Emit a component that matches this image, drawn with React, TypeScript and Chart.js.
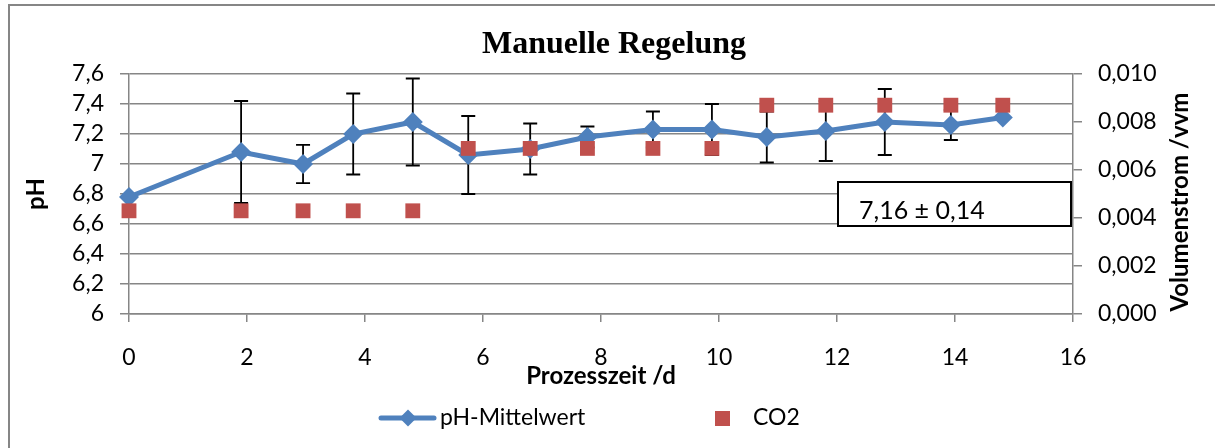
import React, { useEffect, useRef } from 'react';
import { Chart, registerables } from 'chart.js';

Chart.register(...registerables);

// ---- data ----
const days = [0, 1.9, 2.95, 3.8, 4.81, 5.75, 6.8, 7.77, 8.88, 9.88, 10.81, 11.81, 12.81, 13.93, 14.81];
const phMean = [6.78, 7.08, 7.0, 7.2, 7.28, 7.06, 7.1, 7.18, 7.23, 7.23, 7.18, 7.22, 7.28, 7.26, 7.31];
const phSd = [0, 0.34, 0.127, 0.27, 0.29, 0.26, 0.17, 0.07, 0.12, 0.17, 0.17, 0.2, 0.22, 0.1, 0];
const co2 = [0.0043, 0.0043, 0.0043, 0.0043, 0.0043, 0.0069, 0.0069, 0.0069, 0.0069, 0.0069, 0.0087, 0.0087, 0.0087, 0.0087, 0.0087];

const titleText = 'Manuelle Regelung';
const xTitle = 'Prozesszeit /d';
const yTitle = 'pH';
const y2Title = 'Volumenstrom /vvm';
const phLabel = 'pH-Mittelwert';
const co2Label = 'CO2';
const statText = '7,16 \u00B1 0,14';

const xRange = [0, 16, 2];
const yRange = [6, 7.6, 0.2];
const y2Range = [0, 0.01, 0.002];

const BLUE = '#4F81BD';
const RED = '#C0504D';
const GRID = '#868686';
const FONT = 'Lato';
const TICK_SIZE = 23;
const AXIS_TITLE_SIZE = 24;

const errorBarPlugin = {
  id: 'errorBars',
  beforeDatasetsDraw(chart: any) {
    const { ctx, scales } = chart;
    ctx.save();
    ctx.strokeStyle = '#000';
    ctx.lineWidth = 1.8;
    for (let i = 0; i < days.length; i++) {
      if (!phSd[i]) continue;
      const x = scales.x.getPixelForValue(days[i]);
      const yt = scales.y.getPixelForValue(phMean[i] + phSd[i]);
      const yb = scales.y.getPixelForValue(phMean[i] - phSd[i]);
      ctx.beginPath();
      ctx.moveTo(x, yt);
      ctx.lineTo(x, yb);
      ctx.moveTo(x - 7, yt);
      ctx.lineTo(x + 7, yt);
      ctx.moveTo(x - 7, yb);
      ctx.lineTo(x + 7, yb);
      ctx.stroke();
    }
    ctx.restore();
  },
};

const decorPlugin = {
  id: 'decor',
  afterDraw(chart: any) {
    const { ctx } = chart;
    ctx.save();
    // outer chart border (left and top visible)
    ctx.strokeStyle = GRID;
    ctx.lineWidth = 2;
    ctx.beginPath();
    ctx.moveTo(9, 448);
    ctx.lineTo(9, 5);
    ctx.lineTo(1215, 5);
    ctx.stroke();

    // title
    ctx.fillStyle = '#000';
    ctx.font = `bold 32px "Liberation Serif", "Times New Roman", serif`;
    ctx.textAlign = 'center';
    ctx.textBaseline = 'alphabetic';
    ctx.fillText(titleText, 614, 53);

    // right axis title
    ctx.save();
    ctx.font = `bold ${AXIS_TITLE_SIZE}px ${FONT}`;
    ctx.translate(1188, 202);
    ctx.rotate(-Math.PI / 2);
    ctx.textAlign = 'center';
    ctx.textBaseline = 'alphabetic';
    ctx.fillText(y2Title, 0, 0);
    ctx.restore();

    // stat box
    ctx.fillStyle = '#fff';
    ctx.fillRect(838, 182, 233, 44);
    ctx.strokeStyle = '#000';
    ctx.lineWidth = 2;
    ctx.strokeRect(838, 182, 233, 44);
    ctx.fillStyle = '#000';
    ctx.font = `25px ${FONT}`;
    ctx.textAlign = 'left';
    ctx.fillText(statText, 859, 219);

    // legend
    ctx.strokeStyle = BLUE;
    ctx.lineWidth = 5;
    ctx.lineCap = 'round';
    ctx.beginPath();
    ctx.moveTo(381, 418);
    ctx.lineTo(434, 418);
    ctx.stroke();
    ctx.fillStyle = BLUE;
    ctx.beginPath();
    ctx.moveTo(408, 409.5);
    ctx.lineTo(416.5, 418);
    ctx.lineTo(408, 426.5);
    ctx.lineTo(399.5, 418);
    ctx.closePath();
    ctx.fill();
    ctx.fillStyle = '#000';
    ctx.font = `23px ${FONT}`;
    ctx.fillText(phLabel, 440, 425);
    ctx.fillStyle = RED;
    ctx.fillRect(715, 411, 15, 15);
    ctx.fillStyle = '#000';
    ctx.fillText(co2Label, 753, 425);
    ctx.restore();
  },
};

export default function App() {
  const ref = useRef<HTMLCanvasElement>(null);
  useEffect(() => {
    if (!ref.current) return;
    const fmtPh = (v: any) => (Math.round(Number(v) * 10) / 10).toString().replace('.', ',');
    const chart = new Chart(ref.current, {
      type: 'line',
      data: {
        datasets: [
          {
            label: co2Label,
            data: days.map((d, i) => ({ x: d, y: co2[i] })),
            yAxisID: 'y2',
            showLine: false,
            pointStyle: 'rect',
            pointRadius: 10.5,
            pointBackgroundColor: RED,
            pointBorderColor: RED,
            pointBorderWidth: 0,
            backgroundColor: RED,
            borderColor: RED,
            clip: false,
            order: 0,
          } as any,
          {
            label: phLabel,
            data: days.map((d, i) => ({ x: d, y: phMean[i] })),
            yAxisID: 'y',
            borderColor: BLUE,
            backgroundColor: BLUE,
            borderWidth: 5,
            tension: 0,
            pointStyle: 'rectRot',
            pointRadius: 10,
            pointBackgroundColor: BLUE,
            pointBorderColor: BLUE,
            pointBorderWidth: 0,
            clip: false,
            order: 1,
          } as any,
        ],
      },
      options: {
        responsive: false,
        animation: false,
        events: [],
        layout: { padding: { top: 74, bottom: 52, left: 0, right: 0 } },
        plugins: {
          legend: { display: false },
          title: { display: false },
          tooltip: { enabled: false },
        },
        scales: {
          x: {
            type: 'linear',
            min: xRange[0],
            max: xRange[1],
            ticks: { stepSize: xRange[2], autoSkip: false, maxRotation: 0, padding: 22, color: '#000', font: { family: FONT, size: TICK_SIZE } },
            grid: { drawOnChartArea: false, drawTicks: true, tickLength: 8, color: GRID, lineWidth: 1.5 },
            border: { display: true, color: GRID, width: 1.5 },
            title: {
              display: true,
              text: xTitle,
              color: '#000',
              font: { family: FONT, size: AXIS_TITLE_SIZE, weight: 'bold' },
              padding: { top: 0, bottom: 5 },
            },
            afterFit: (s: any) => { s.height = 82; },
          },
          y: {
            type: 'linear',
            position: 'left',
            min: yRange[0],
            max: yRange[1],
            ticks: { stepSize: yRange[2], autoSkip: false, padding: 16, color: '#000', font: { family: FONT, size: TICK_SIZE }, callback: fmtPh },
            grid: { drawTicks: true, tickLength: 9, color: GRID, lineWidth: 1.5 },
            border: { display: true, color: GRID, width: 1.5 },
            title: {
              display: true,
              text: yTitle,
              color: '#000',
              font: { family: FONT, size: AXIS_TITLE_SIZE, weight: 'bold' },
              padding: { top: 22, bottom: 0 },
            },
            afterFit: (s: any) => { s.width = 129; },
          },
          y2: {
            type: 'linear',
            position: 'right',
            min: y2Range[0],
            max: y2Range[1],
            ticks: {
              stepSize: y2Range[2],
              autoSkip: false,
              padding: 16,
              color: '#000',
              font: { family: FONT, size: TICK_SIZE },
              callback: (v: any) => Number(v).toFixed(3).replace('.', ','),
            },
            grid: { drawOnChartArea: false, drawTicks: true, tickLength: 9, color: GRID, lineWidth: 1.5 },
            border: { display: true, color: GRID, width: 1.5 },
            afterFit: (s: any) => { s.width = 142; },
          },
        },
      } as any,
      plugins: [errorBarPlugin, decorPlugin],
    });
    return () => chart.destroy();
  }, []);

  return (
    <div style={{ position: 'fixed', left: 0, top: 0, width: 1215, height: 448, background: '#fff' }}>
      <canvas ref={ref} width={1215} height={448} style={{ display: 'block' }} />
    </div>
  );
}
